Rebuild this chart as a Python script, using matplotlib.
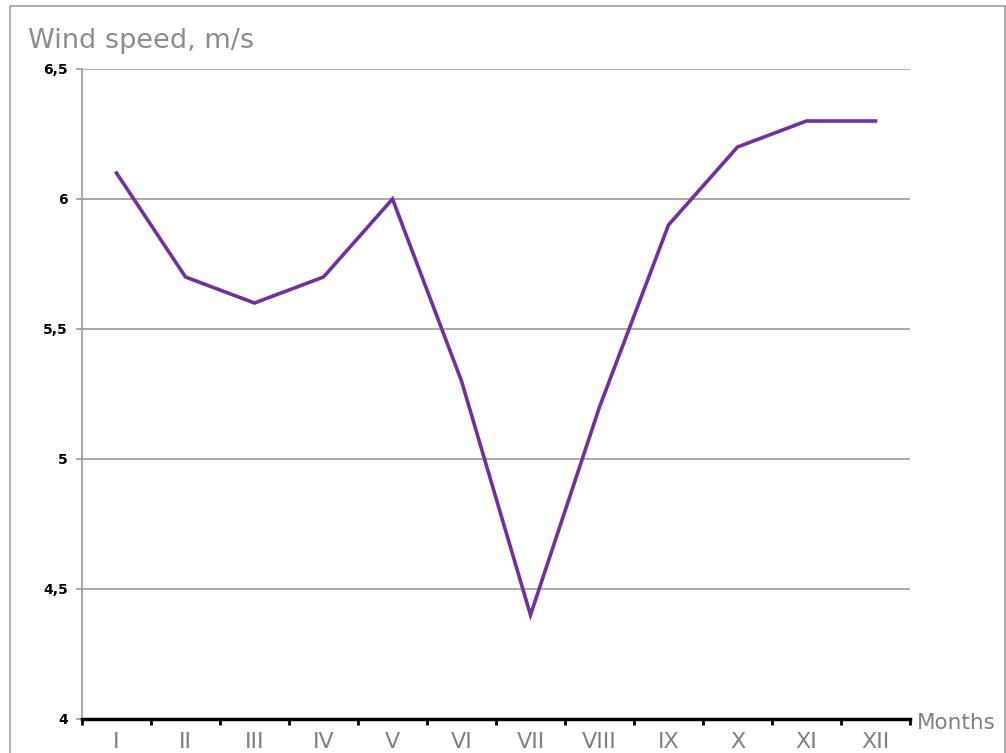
import matplotlib
matplotlib.use("Agg")
import matplotlib.pyplot as plt
from matplotlib.patches import Rectangle

months = ["I", "II", "III", "IV", "V", "VI", "VII", "VIII", "IX", "X", "XI", "XII"]
wind_speed = [6.1, 5.7, 5.6, 5.7, 6.0, 5.3, 4.4, 5.2, 5.9, 6.2, 6.3, 6.3]
y_ticks = [4, 4.5, 5, 5.5, 6, 6.5]
y_labels = ["4", "4,5", "5", "5,5", "6", "6,5"]

W, H = 1006, 753
fig = plt.figure(figsize=(W / 100, H / 100), dpi=100)
ax = fig.add_axes([82 / W, 1 - 719 / H, (910 - 82) / W, (719 - 69) / H])

# outer frame
fig.patches.append(Rectangle((10 / W, -0.05), (1005 - 10) / W, 1 - 6 / H + 0.05,
                             transform=fig.transFigure, fill=False,
                             edgecolor="#a0a0a0", linewidth=1.2))

x = list(range(len(months)))
ax.plot(x, wind_speed, color="#7030a0", linewidth=2.6, solid_joinstyle="miter", zorder=3)

ax.set_xlim(-0.5, len(months) - 0.5)
ax.set_ylim(4, 6.5)

ax.set_yticks(y_ticks)
ax.set_yticklabels(y_labels, fontsize=10, fontweight="bold", color="black")
for yv in y_ticks[1:]:
    ax.axhline(yv, color="#9a9a9a", linewidth=1.2, zorder=1)

ax.set_xticks([i - 0.5 for i in range(len(months) + 1)])
ax.set_xticklabels([])
ax.set_xticks(x, minor=True)
ax.set_xticklabels(months, minor=True, fontsize=16, color="#808080")
ax.tick_params(axis="x", which="major", direction="out", length=4, width=2, color="black")
ax.tick_params(axis="x", which="minor", length=0, pad=9)
ax.tick_params(axis="y", direction="out", length=4, width=1.2, color="#9a9a9a", pad=6)

for s in ["top", "right"]:
    ax.spines[s].set_visible(False)
ax.spines["left"].set_color("#9a9a9a")
ax.spines["left"].set_linewidth(1.2)
ax.spines["bottom"].set_color("black")
ax.spines["bottom"].set_linewidth(2.5)

fig.text(28 / W, 1 - 48 / H, "Wind speed, m/s", fontsize=19.5, color="#8c8c8c", ha="left", va="baseline")
fig.text(917 / W, 1 - 723 / H, "Months", fontsize=15.5, color="#808080", ha="left", va="center")

fig.savefig("out.png", dpi=100)
